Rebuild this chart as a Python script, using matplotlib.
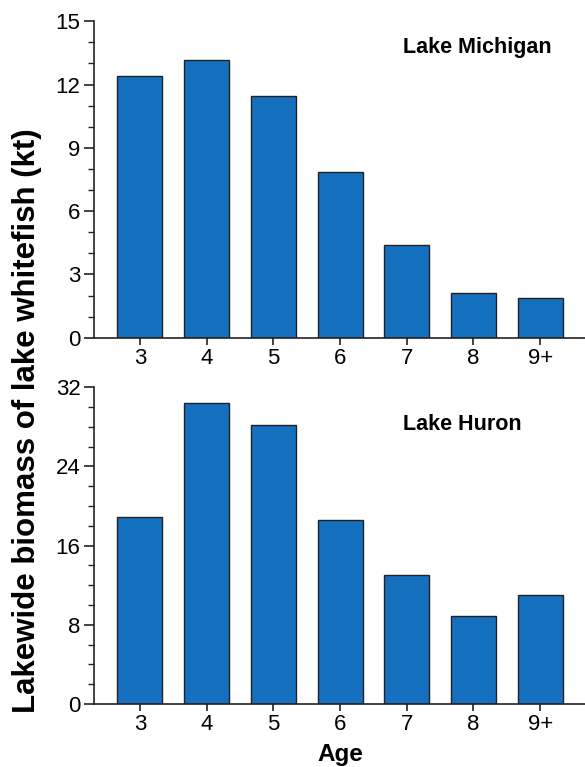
import numpy as np
import matplotlib
matplotlib.use("Agg")
import matplotlib.pyplot as plt
from matplotlib.ticker import MultipleLocator

# -------------------------------
# Data
# -------------------------------
ages = ["3", "4", "5", "6", "7", "8", "9+"]
michigan = [12.4, 13.15, 11.45, 7.85, 4.4, 2.13, 1.9]
huron = [18.9, 30.4, 28.2, 18.55, 13.0, 8.9, 11.0]

BAR_COLOR = "#1670C0"
plt.rcParams["font.family"] = ["Liberation Sans", "DejaVu Sans"]

fig = plt.figure(figsize=(5.85, 7.67), dpi=100)

W, H = 585, 767
left = 94.3 / W
width = 1.0 - left

ax1 = fig.add_axes([left, 1 - 337.7 / H, width, (337.7 - 21.3) / H])
ax2 = fig.add_axes([left, 1 - 704.0 / H, width, (704.0 - 387.3) / H])

def panel(ax, values, ymax, major, minor, label, label_y):
    x = np.arange(len(ages))
    ax.bar(x, values, width=0.675, color=BAR_COLOR,
           edgecolor="#222222", linewidth=1.0, zorder=2)
    ax.set_xlim(-0.685, 6.672)
    ax.set_ylim(0, ymax)
    ax.set_xticks(x)
    ax.set_xticklabels(ages)
    ax.yaxis.set_major_locator(MultipleLocator(major))
    ax.yaxis.set_minor_locator(MultipleLocator(minor))
    for s in ["top", "right"]:
        ax.spines[s].set_visible(False)
    for s in ["left", "bottom"]:
        ax.spines[s].set_linewidth(1.2)
        ax.spines[s].set_color("#222222")
    ax.tick_params(axis="both", which="major", labelsize=16,
                   color="#222222", width=1.2)
    ax.tick_params(axis="y", which="major", length=7, pad=3)
    ax.tick_params(axis="y", which="minor", length=4, width=1.0, color="#222222")
    ax.tick_params(axis="x", which="major", length=5, pad=2.5)
    fig.text(403 / W, 1 - label_y / H, label, ha="left", va="center",
             fontsize=15.5, fontweight="bold")

panel(ax1, michigan, 15, 3, 1, "Lake Michigan", 47.5)
panel(ax2, huron, 32, 8, 2, "Lake Huron", 425)

fig.text(27 / W, 1 - 421 / H, "Lakewide biomass of lake whitefish (kt)",
         rotation=90, ha="center", va="center", fontsize=22.5, fontweight="bold")
fig.text(340 / W, 1 - 755 / H, "Age", ha="center", va="center",
         fontsize=17.5, fontweight="bold")

fig.savefig("out.png", dpi=100)
